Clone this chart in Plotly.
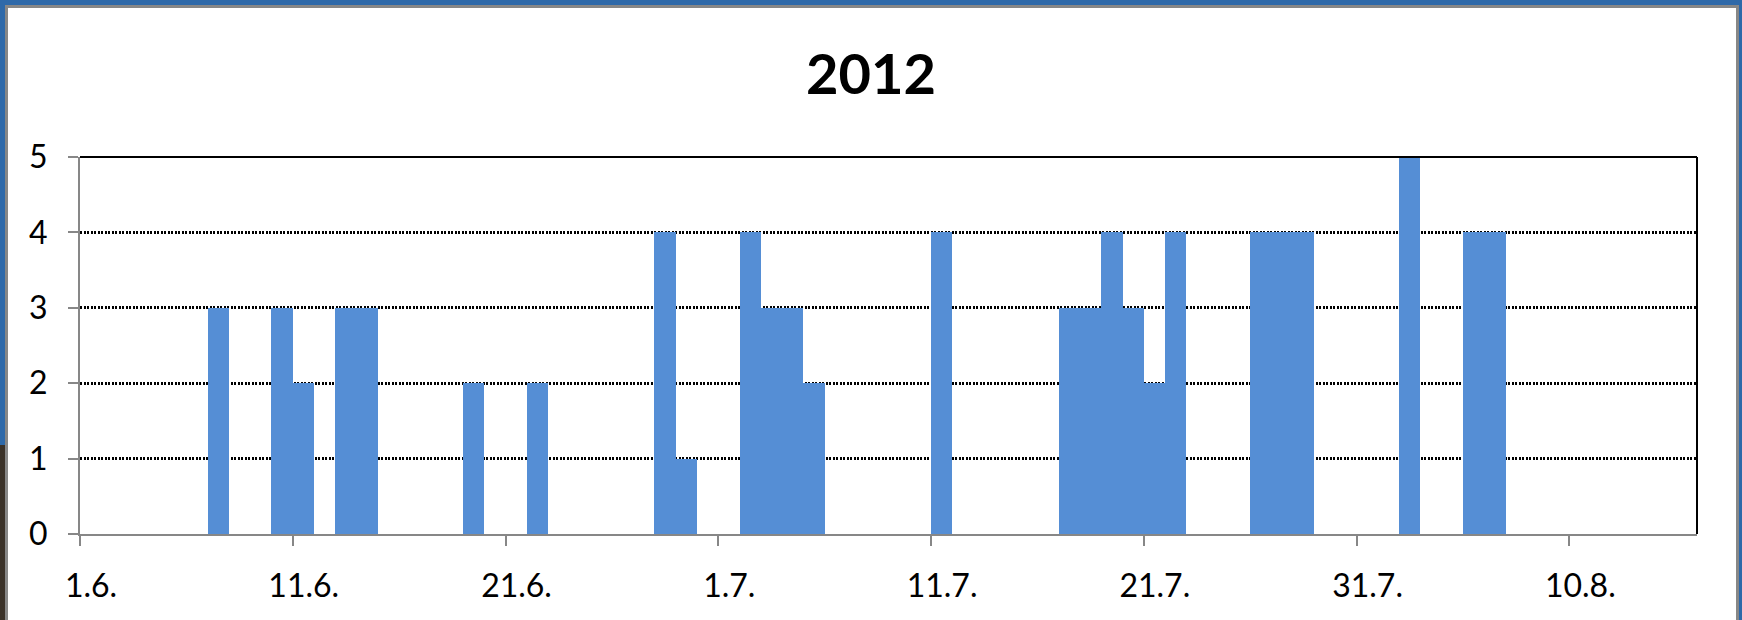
import plotly.graph_objects as go
import pandas as pd

# ---- data ----
dates = ["2012-06-07", "2012-06-10", "2012-06-11", "2012-06-13", "2012-06-14",
         "2012-06-19", "2012-06-22", "2012-06-28", "2012-06-29", "2012-07-02",
         "2012-07-03", "2012-07-04", "2012-07-05", "2012-07-11", "2012-07-17",
         "2012-07-18", "2012-07-19", "2012-07-20", "2012-07-21", "2012-07-22",
         "2012-07-26", "2012-07-27", "2012-07-28", "2012-08-02", "2012-08-05",
         "2012-08-06"]
counts = [3, 3, 2, 3, 3,
          2, 2, 4, 1, 4,
          3, 3, 2, 4, 3,
          3, 4, 3, 2, 4,
          4, 4, 4, 5, 4,
          4]
tick_dates = ["2012-06-01", "2012-06-11", "2012-06-21", "2012-07-01",
              "2012-07-11", "2012-07-21", "2012-07-31", "2012-08-10"]
tick_labels = ["1.6.", "11.6.", "21.6.", "1.7.", "11.7.", "21.7.", "31.7.", "10.8."]
x_start, x_end = "2012-06-01", "2012-08-16"
title_text = "2012"

# ---- layout constants ----
W, H = 1742, 620
L, R, T, B = 80, 45, 157, 86
plot_w = W - L - R
plot_h = H - T - B
DAY_MS = 86400000
BAR_COLOR = "#558ed5"
GREY = "#878787"
FONT = "Lato"


def px_x(p):
    return (p - L) / plot_w


def px_y(p):
    return (H - B - p) / plot_h


fig = go.Figure()
fig.add_trace(go.Bar(
    x=pd.to_datetime(dates),
    y=counts,
    xperiod=DAY_MS,
    xperiodalignment="middle",
    width=DAY_MS,
    marker=dict(color=BAR_COLOR, line=dict(width=0)),
    hoverinfo="x+y",
))

shapes = [
    # white chart panel with grey border, over blue window background
    dict(type="rect", xref="paper", yref="paper", layer="below",
         x0=px_x(6.5), x1=px_x(1737.5), y0=px_y(640), y1=px_y(6.5),
         fillcolor="white", line=dict(color=GREY, width=3)),
    # dark photo strip on the bottom-left edge
    dict(type="rect", xref="paper", yref="paper", layer="below",
         x0=px_x(0), x1=px_x(5), y0=px_y(640), y1=px_y(445),
         fillcolor="#3a3128", line=dict(width=0)),
    # black top and right plot borders
    dict(type="line", xref="paper", yref="paper", layer="above",
         x0=0, x1=1, y0=1, y1=1, line=dict(color="black", width=2)),
    dict(type="line", xref="paper", yref="paper", layer="above",
         x0=1, x1=1, y0=0, y1=1, line=dict(color="black", width=2)),
]

fig.update_layout(
    width=W, height=H,
    margin=dict(l=L, r=R, t=T, b=B, pad=0),
    paper_bgcolor="#2e69a9",
    plot_bgcolor="white",
    showlegend=False,
    bargap=0,
    font=dict(family=FONT, color="black", size=32),
    title=dict(text=title_text, x=0.5, xref="container", xanchor="center",
               y=1 - 74 / H, yref="container", yanchor="middle",
               font=dict(family=FONT, size=56, color="black", weight="bold")),
    shapes=shapes,
    xaxis=dict(
        type="date",
        range=[x_start, x_end],
        tickmode="array",
        tickvals=pd.to_datetime(tick_dates),
        ticktext=tick_labels,
        ticks="outside", ticklen=10, tickwidth=2, tickcolor=GREY,
        ticklabelshift=11,
        ticklabelstandoff=13,
        showline=True, linecolor=GREY, linewidth=2,
        showgrid=False, zeroline=False,
        tickfont=dict(family=FONT, size=32, color="black"),
    ),
    yaxis=dict(
        range=[0, 5],
        tickmode="linear", tick0=0, dtick=1,
        ticks="outside", ticklen=10, tickwidth=2, tickcolor=GREY,
        ticklabelstandoff=14,
        showline=True, linecolor=GREY, linewidth=2,
        showgrid=True, gridcolor="black", gridwidth=2.5, griddash="2px,1.5px",
        zeroline=False,
        tickfont=dict(family=FONT, size=32, color="black"),
    ),
)

fig.write_html(
    "out.html",
    config={"displayModeBar": False},
    post_script="document.body.style.margin='0';document.body.style.overflow='hidden';",
)
